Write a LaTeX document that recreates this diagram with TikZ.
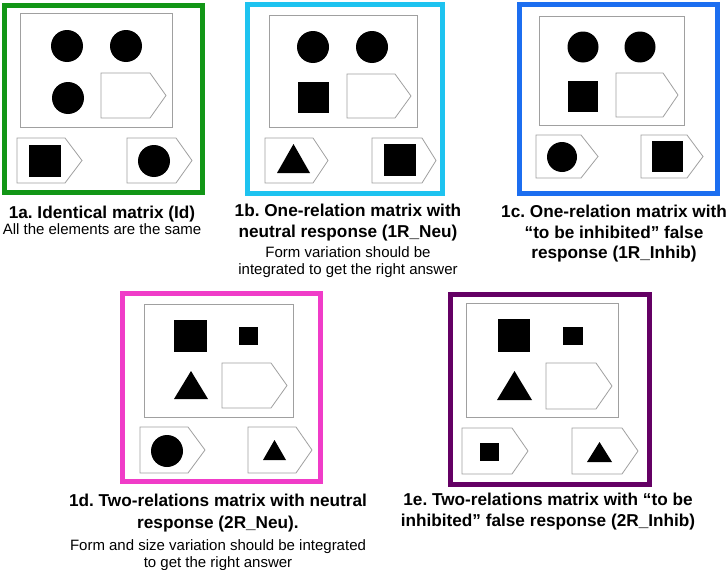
\documentclass[tikz,border=0pt]{standalone}
\usepackage{fontspec}
\setmainfont{Liberation Sans}
\frenchspacing
\definecolor{fgreen}{RGB}{18,150,22}
\definecolor{fcyan}{RGB}{30,195,240}
\definecolor{fblue}{RGB}{28,110,240}
\definecolor{fmagenta}{RGB}{240,60,200}
\definecolor{fpurple}{RGB}{100,0,100}
\definecolor{lgray}{RGB}{160,160,160}
\tikzset{
  framebox/.style={line width=5pt},
  grayline/.style={draw=lgray, line width=0.8pt, fill=white},
  boldcap/.style={anchor=base, inner sep=0pt, font=\fontsize{17.2}{20}\selectfont\bfseries\frenchspacing},
  regcap/.style={anchor=base, inner sep=0pt, font=\fontsize{15}{17}\selectfont\frenchspacing},
}
\newcommand\pentabox[5]{\draw[grayline] (#1,#4) -- (#2,#4) -- (#3,{(#4+#5)/2}) -- (#2,#5) -- (#1,#5) -- cycle;}
\begin{document}
\begin{tikzpicture}[x=1pt,y=-1pt]
\useasboundingbox[fill=white] (0,0) rectangle (726,570);

% ---------- 1a ----------
\draw[framebox, fgreen] (4.5,5) rectangle (202.5,192.5);
\draw[grayline] (20.5,13.5) rectangle (172,127);
\fill (67,46) circle (16pt);
\fill (126,46) circle (16pt);
\fill (68,98) circle (16pt);
\pentabox{101}{150}{166}{73}{118}
\pentabox{17}{65}{82}{138}{183}
\fill (29,145) rectangle (61,177);
\pentabox{127}{176}{192}{138}{183}
\fill (154,161) circle (16pt);
\node[boldcap] (ta1) at (102,218) {1a. Identical matrix (Id)};
\node[regcap] (ta2) at (102,234) {All the elements are the same};

% ---------- 1b ----------
\draw[framebox, fcyan] (247.5,4) rectangle (442.5,193.5);
\draw[grayline] (269,15) rectangle (417,127);
\fill (313,47) circle (16pt);
\fill (372,47) circle (16pt);
\fill (298,82) rectangle (329,113);
\pentabox{347}{395}{411}{74}{118}
\pentabox{265}{313}{328}{138}{183}
\fill (277,173) -- (310,173) -- (293.5,144) -- cycle;
\pentabox{372}{422}{436}{138}{183}
\fill (384,144) rectangle (416,176);
\node[boldcap] (tb1) at (348,216) {1b. One-relation matrix with};
\node[boldcap] (tb2) at (348,237) {neutral response (1R\_Neu)};
\node[regcap] (tb3) at (348,257) {Form variation should be};
\node[regcap] (tb4) at (348,274) {integrated to get the right answer};

% ---------- 1c ----------
\draw[framebox, fblue] (519,4) rectangle (717.5,193);
\draw[grayline] (539,16) rectangle (684,125);
\fill (583,47) circle (15.5pt);
\fill (640,47) circle (15.5pt);
\fill (568,81) rectangle (598,112);
\pentabox{616}{663}{678}{73}{117}
\pentabox{536}{581}{598}{135}{178}
\fill (562,157) circle (15pt);
\pentabox{641}{687}{703}{135}{178}
\fill (652,141) rectangle (683,172);
\node[boldcap] (tc1) at (614,217) {1c. One-relation matrix with};
\node[boldcap] (tc2) at (614,238) {“to be inhibited” false};
\node[boldcap] (tc3) at (614,258) {response (1R\_Inhib)};

% ---------- 1d ----------
\draw[framebox, fmagenta] (122.5,293) rectangle (320.5,481.5);
\draw[grayline] (144,304) rectangle (293,417);
\fill (174,320) rectangle (207,352);
\fill (239,327) rectangle (258,345);
\fill (174,399) -- (208,399) -- (191,371) -- cycle;
\pentabox{222}{271}{287}{363}{408}
\pentabox{140}{188}{205}{427}{473}
\fill (167,451) circle (16pt);
\pentabox{248}{296}{312}{427}{473}
\fill (263,460) -- (286,460) -- (274.5,440) -- cycle;
\node[boldcap] (td1) at (218,506) {1d. Two-relations matrix with neutral};
\node[boldcap] (td2) at (218,528) {response (2R\_Neu).};
\node[regcap] (td3) at (218,550) {Form and size variation should be integrated};
\node[regcap] (td4) at (218,567) {to get the right answer};

% ---------- 1e ----------
\draw[framebox, fpurple] (450.5,294) rectangle (649.5,484.5);
\draw[grayline] (466,303) rectangle (618,417);
\fill (498,319) rectangle (530,352);
\fill (563,327) rectangle (583,345);
\fill (497,400) -- (532,400) -- (514.5,371) -- cycle;
\pentabox{546}{596}{612}{363}{409}
\pentabox{462}{512}{528}{428}{474}
\fill (480,443) rectangle (499,461);
\pentabox{572}{622}{638}{428}{474}
\fill (587,462) -- (612,462) -- (599.5,442) -- cycle;
\node[boldcap] (te1) at (548,505) {1e. Two-relations matrix with “to be};
\node[boldcap] (te2) at (548,526) {inhibited” false response (2R\_Inhib)};
\end{tikzpicture}
\end{document}
